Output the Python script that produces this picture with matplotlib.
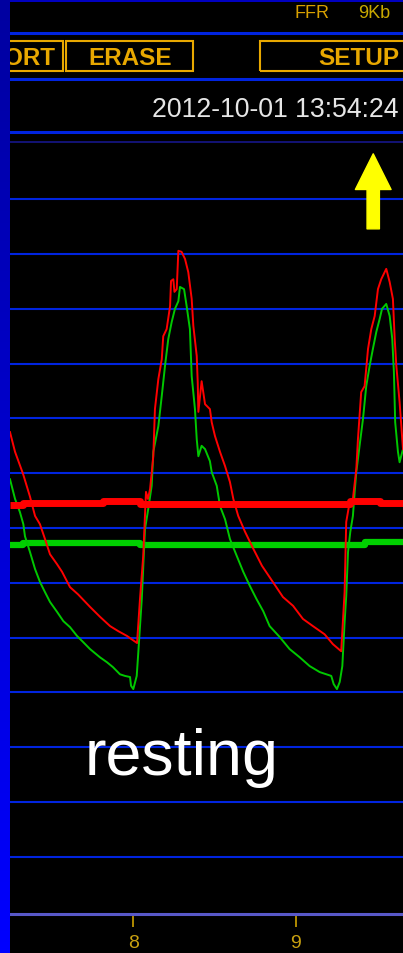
import matplotlib

matplotlib.use("Agg")
import matplotlib.pyplot as plt
import numpy as np
from matplotlib.colors import LinearSegmentedColormap
from matplotlib.lines import Line2D
from matplotlib.patches import FancyArrowPatch, Rectangle

plt.rcParams["font.family"] = ["Liberation Sans", "DejaVu Sans"]

# aortic pressure (Pa) trace, time in s, pressure in mmHg
pa_time = [7.242, 7.273, 7.322, 7.365, 7.396, 7.426, 7.457, 7.488, 7.531, 7.562,
           7.611, 7.660, 7.734, 7.795, 7.857, 7.906, 7.961, 8.023, 8.041, 8.061,
           8.078, 8.090, 8.103, 8.123, 8.133, 8.154, 8.175, 8.184, 8.205, 8.226,
           8.232, 8.246, 8.253, 8.267, 8.277, 8.297, 8.318, 8.338, 8.359, 8.369,
           8.390, 8.396, 8.400, 8.420, 8.441, 8.471, 8.482, 8.502, 8.533, 8.564,
           8.594, 8.615, 8.645, 8.687, 8.738, 8.791, 8.859, 8.920, 8.982, 9.043,
           9.104, 9.176, 9.227, 9.278, 9.299, 9.309, 9.330, 9.350, 9.371, 9.381,
           9.401, 9.422, 9.443, 9.463, 9.484, 9.504, 9.524, 9.555, 9.576, 9.596,
           9.607, 9.617, 9.637, 9.658]
pa_mmhg = [87.5, 83.9, 79.9, 75.7, 72.2, 70.7, 68.0, 65.2, 63.4, 62.0,
           59.2, 57.9, 55.6, 53.8, 52.1, 51.2, 50.3, 49.0, 57.0, 64.9,
           76.6, 75.3, 77.1, 83.1, 91.7, 97.2, 100.8, 105.0, 106.3, 110.5,
           115.1, 115.4, 113.1, 113.6, 120.6, 120.4, 119.1, 116.7, 111.8, 106.9,
           101.4, 96.6, 91.2, 96.8, 92.6, 91.7, 89.3, 86.8, 83.9, 81.3,
           78.4, 75.3, 72.2, 69.3, 66.2, 63.1, 60.1, 57.4, 55.8, 53.4,
           52.1, 50.6, 48.8, 47.5, 58.3, 71.1, 74.7, 75.3, 80.8, 86.2,
           94.8, 95.9, 102.7, 106.3, 108.7, 113.6, 115.4, 117.3, 114.9, 111.8,
           104.5, 99.6, 93.0, 84.4]

# distal pressure (Pd) trace
pd_time = [7.242, 7.273, 7.303, 7.324, 7.334, 7.365, 7.396, 7.427, 7.457, 7.488,
           7.531, 7.570, 7.611, 7.654, 7.691, 7.734, 7.795, 7.838, 7.875, 7.918,
           7.949, 7.980, 7.986, 8.000, 8.021, 8.031, 8.052, 8.072, 8.092, 8.113,
           8.123, 8.154, 8.175, 8.195, 8.215, 8.236, 8.256, 8.277, 8.287, 8.312,
           8.328, 8.348, 8.359, 8.379, 8.390, 8.400, 8.420, 8.441, 8.471, 8.482,
           8.513, 8.533, 8.564, 8.594, 8.636, 8.676, 8.717, 8.758, 8.799, 8.838,
           8.900, 8.961, 9.023, 9.084, 9.146, 9.217, 9.232, 9.252, 9.269, 9.285,
           9.299, 9.309, 9.320, 9.334, 9.350, 9.361, 9.371, 9.391, 9.412, 9.432,
           9.453, 9.473, 9.494, 9.514, 9.529, 9.555, 9.576, 9.592, 9.602, 9.610,
           9.627, 9.637, 9.658]
pd_mmhg = [78.9, 75.3, 72.9, 70.7, 68.5, 65.6, 62.5, 60.1, 58.3, 56.5,
           54.7, 53.0, 51.9, 50.3, 49.2, 47.9, 46.4, 45.5, 44.6, 43.3,
           43.0, 42.8, 41.2, 40.6, 43.0, 47.4, 57.0, 69.8, 73.5, 77.7,
           83.9, 88.6, 94.1, 99.6, 104.5, 107.6, 110.0, 111.4, 114.0, 113.6,
           110.5, 106.3, 97.7, 91.7, 86.2, 83.1, 85.0, 84.4, 82.2, 80.2,
           77.7, 74.0, 71.6, 68.0, 64.9, 62.0, 59.4, 57.0, 54.8, 52.1,
           50.1, 47.9, 46.4, 44.8, 43.7, 43.0, 41.5, 40.6, 41.9, 44.8,
           52.8, 57.6, 65.6, 69.3, 72.2, 76.6, 80.2, 85.0, 89.9, 95.9,
           99.6, 102.7, 105.8, 108.1, 110.0, 110.9, 108.7, 104.5, 98.5, 89.3,
           83.9, 82.0, 84.4]

# running means (step lines)
pa_mean_time = [7.242, 7.322, 7.814, 8.041, 9.332, 9.516, 9.658]
pa_mean_mmhg = [74.2, 74.5, 75.0, 74.3, 75.0, 74.6, 74.6]
pd_mean_time = [7.242, 7.322, 8.041, 9.424, 9.658]
pd_mean_mmhg = [66.9, 67.2, 66.9, 67.4, 67.4]

grid_mmhg = list(range(10, 140, 10))
time_ticks = [8, 9]
time_labels = ["8", "9"]
marker_time = 9.475
marker_mmhg = (124.6, 138.3)

status_texts = ["FFR", "9Kb"]
button_texts = ["ORT", "ERASE", "SETUP"]
timestamp = "2012-10-01 13:54:24"
phase_label = "resting"

W, H = 403, 954
BLUE = "#0024e0"
ORANGE = "#e8a800"


def fx(px):
    return px / W


def fy(py):
    return 1 - py / H


fig = plt.figure(figsize=(W / 100, H / 100), dpi=100, facecolor="black")

ax = fig.add_axes([fx(10), fy(914.7), 1 - fx(10), fy(143.3) - fy(914.7)])
ax.set_facecolor("black")
ax.set_xlim(7.242, 9.658)
ax.set_ylim(-0.4, 140.4)
ax.set_axisbelow(True)
ax.set_yticks(grid_mmhg)
ax.yaxis.grid(True, color=BLUE, linewidth=1.5)
ax.tick_params(axis="y", left=False, labelleft=False)
ax.set_xticks(time_ticks, time_labels)
ax.tick_params(axis="x", direction="out", length=9.5, width=1.1, color="#e0b000",
               pad=5, labelsize=14, labelcolor="#c8a010")
for side in ["left", "right"]:
    ax.spines[side].set_visible(False)
ax.spines["bottom"].set_color("#5858c8")
ax.spines["bottom"].set_linewidth(2.2)
ax.spines["top"].set_color("#16168a")
ax.spines["top"].set_linewidth(1.2)

ax.plot(pd_mean_time, pd_mean_mmhg, drawstyle="steps-post", color="#00d000", lw=4.5,
        solid_capstyle="butt")
ax.plot(pd_time, pd_mmhg, color="#00c800", lw=1.4)
ax.plot(pa_mean_time, pa_mean_mmhg, drawstyle="steps-post", color="#ff0000", lw=5,
        solid_capstyle="butt")
ax.plot(pa_time, pa_mmhg, color="#ff0000", lw=1.4)

arrow = FancyArrowPatch((marker_time, marker_mmhg[0]), (marker_time, marker_mmhg[1]),
                        arrowstyle="simple,head_length=25.7,head_width=25.7,tail_width=8.9",
                        mutation_scale=1, color="#ffff00", shrinkA=0, shrinkB=0)
ax.add_patch(arrow)

# header lines and buttons
for py in [33.5, 80.3, 132.7]:
    fig.add_artist(Line2D([fx(10), 1], [fy(py), fy(py)], color=BLUE, lw=2.2))
fig.add_artist(Rectangle((0, fy(3)), 1, fy(0) - fy(3), transform=fig.transFigure,
                         color="#0000c0", lw=0))

for x0, x1 in [(-5, 62.7), (66, 192.7), (260, 420)]:
    fig.add_artist(Rectangle((fx(x0), fy(72)), fx(x1) - fx(x0), fy(42.3) - fy(72),
                             transform=fig.transFigure, fill=False,
                             edgecolor=ORANGE, lw=1.5))
fig.text(fx(55), fy(65.3), button_texts[0], color=ORANGE, fontsize=17.5,
         fontweight="bold", ha="right", va="baseline")
fig.text(fx(130.5), fy(65.3), button_texts[1], color=ORANGE, fontsize=17.5,
         fontweight="bold", ha="center", va="baseline")
fig.text(fx(318), fy(65.3), button_texts[2], color=ORANGE, fontsize=17.5,
         fontweight="bold", ha="left", va="baseline")

fig.text(fx(295), fy(17.5), status_texts[0], color="#d8a000", fontsize=13, va="baseline")
fig.text(fx(358), fy(17.5), status_texts[1], color="#c8a800", fontsize=13, va="baseline")
fig.text(fx(399), fy(117.3), timestamp, color="#e6e6e6", fontsize=19.2,
         ha="right", va="baseline")

fig.text(fx(85), fy(775), phase_label, color="white", fontsize=46.5, va="baseline")

# left blue stripe, on top of the header texts
stripe = fig.add_axes([0, 0, fx(10), 1])
stripe.imshow(np.linspace(0, 1, 256).reshape(-1, 1), aspect="auto",
              cmap=LinearSegmentedColormap.from_list("stripe", ["#0000a0", "#0000ff"]))
stripe.set_axis_off()
stripe.set_zorder(10)

fig.savefig("out.png", dpi=100, facecolor="black")
